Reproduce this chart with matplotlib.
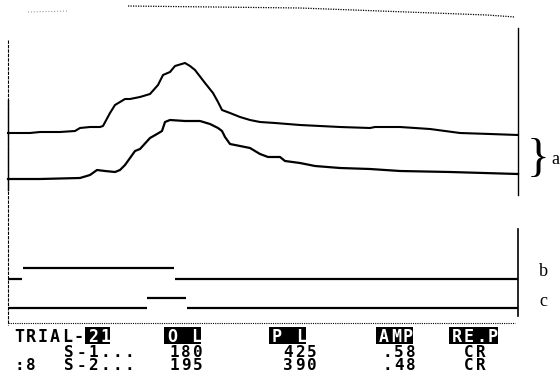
import numpy as np
import matplotlib.pyplot as plt
from matplotlib.patches import Rectangle

# eyelid traces (time in ms, screen level in rows; smaller = higher)
t_s1 = [0, 44, 64, 84, 104, 134, 144, 164, 184, 190, 204, 214, 224, 234, 244, 264, 284, 300, 310,
        324, 334, 354, 364, 374, 394, 410, 420, 428, 444, 464, 484, 504, 534, 584, 624, 664, 724,
        734, 784, 844, 904, 964, 1020]
y_s1 = [133, 133, 132, 132, 132, 131, 128, 127, 127, 126, 113, 105, 102, 99, 99, 97, 94, 85, 75,
        72, 66, 63, 66, 70, 83, 93, 102, 110, 113, 117, 120, 122, 123, 125, 126, 127, 128,
        127, 127, 129, 133, 134, 135]
t_s2 = [0, 64, 144, 164, 178, 194, 214, 224, 234, 244, 254, 264, 284, 298, 308, 314, 324, 354, 384,
        404, 420, 428, 434, 444, 464, 484, 504, 520, 544, 554, 584, 614, 664, 724, 784, 884, 1020]
y_s2 = [179, 179, 178, 175, 170, 171, 172, 170, 165, 158, 151, 149, 138, 134, 131, 122, 120, 121, 121,
        124, 128, 131, 137, 144, 146, 148, 154, 157, 157, 161, 163, 166, 168, 169, 171, 172, 174]

# stimulus markers b (CS) and c (US)
cs_on, cs_off = 30, 332
us_on, us_off = 278, 356
t_end = 1020
b_base, b_up = 279, 268
c_base, c_up = 308, 298

# readout table
headers = ["O L", "P L", "AMP", "RE.P"]
row1 = ["180", "425", ".58", "CR"]
row2 = ["195", "390", ".48", "CR"]

fig = plt.figure(figsize=(5.6, 3.79), dpi=100)
ax = fig.add_axes([0, 0, 1, 1])
ax.set_xlim(-16, 1104)
ax.set_ylim(379, 0)
ax.axis('off')

ax.plot(t_s1, y_s1, color='black', lw=1.5)
ax.plot(t_s2, y_s2, color='black', lw=1.6)

ax.hlines([b_base, b_up, b_base], [0, cs_on, cs_off + 2], [cs_on - 2, cs_off, t_end], color='black', lw=1.6)
ax.hlines([c_base, c_up, c_base], [0, us_on, us_off + 2], [us_on - 1, us_off, t_end], color='black', lw=1.6)

# overlay in screen pixels for frame and text
ov = fig.add_axes([0, 0, 1, 1])
ov.set_xlim(0, 560)
ov.set_ylim(379, 0)
ov.axis('off')
ov.patch.set_alpha(0)

ov.plot([128, 300, 487, 515], [6, 8, 15, 17], color='black', lw=0.9, ls=(0, (1, 1)))
ov.plot([28, 68], [12, 11], color='gray', lw=0.7, ls=(0, (1, 2)))
ov.plot([8, 8], [40, 325], color='black', lw=0.8, ls=(0, (3, 1)))
ov.plot([8, 8], [100, 190], color='black', lw=1.0)
ov.plot([518, 518], [28, 195], color='black', lw=1.0)
ov.plot([518, 518], [229, 316], color='black', lw=1.2)
ov.plot([8, 515], [323, 323], color='black', lw=0.8, ls=(0, (1, 1)))

ov.text(527, 160, "}", fontsize=34, family='Liberation Serif', va='center', ha='left')
ov.text(551, 160, "a", fontsize=13, family='Liberation Serif', va='center', ha='left')
ov.text(539, 271, "b", fontsize=13, family='Liberation Serif', va='center', ha='left')
ov.text(539, 302, "c", fontsize=13, family='Liberation Serif', va='center', ha='left')


def screen(x, y, s, size=11.5, inv=False, pitch=12):
    # fixed-pitch terminal text, one glyph per cell
    if inv:
        ov.add_patch(Rectangle((x - 2, y - 15), pitch * len(s) + 1, 17, color='black', lw=0))
    for i, ch in enumerate(s):
        ov.text(x + i * pitch + pitch / 2, y, ch, family='DejaVu Sans Mono', fontsize=size,
                weight='bold', ha='center', va='baseline', color='white' if inv else 'black')


screen(13, 342, "TRIAL-", 12)
screen(87, 342, "21", 12, inv=True)
for x, h in zip([166, 271, 378, 451], headers):
    screen(x, 342, h, 12, inv=True)
screen(63, 357, "S-1...")
screen(13, 370, ":8")
screen(63, 370, "S-2...")
for x, a, b in zip([168, 282, 381, 463], row1, row2):
    screen(x, 357, a)
    screen(x, 370, b)

fig.savefig('out.png', dpi=100)
